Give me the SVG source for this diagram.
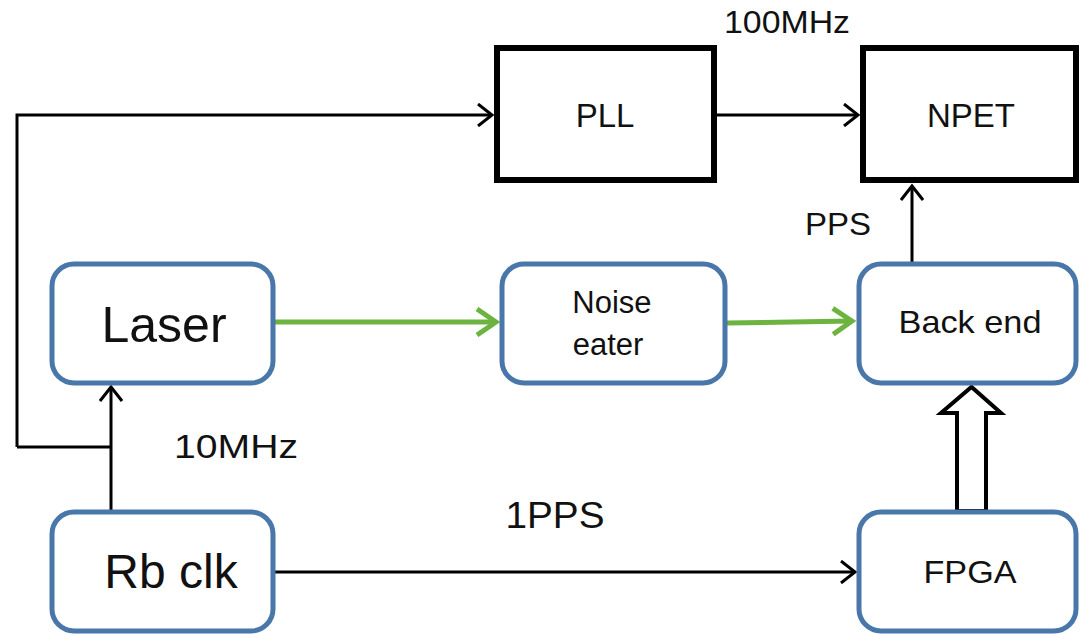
<svg xmlns="http://www.w3.org/2000/svg" width="1080" height="635" viewBox="0 0 1080 635">
  <style>
    .rbox { fill: #ffffff; stroke: #4a77aa; stroke-width: 5; }
    .sbox { fill: #ffffff; stroke: #000000; stroke-width: 6; }
    .lbl { font-family: "Liberation Sans", Arial, sans-serif; fill: #111111; }
    .wire { fill: none; stroke: #000000; stroke-width: 3; }
    .gwire { fill: none; stroke: #6cb33f; stroke-width: 5; }
  </style>
  <defs>
    <marker id="ah" markerUnits="userSpaceOnUse" markerWidth="24" markerHeight="24" viewBox="-20 -12 24 24" refX="0" refY="0" orient="auto">
      <polyline points="-14,-11 0,0 -14,11" fill="none" stroke="#000000" stroke-width="3"/>
    </marker>
    <marker id="gh" markerUnits="userSpaceOnUse" markerWidth="28" markerHeight="30" viewBox="-24 -15 28 30" refX="0" refY="0" orient="auto">
      <polyline points="-19,-13 0,0 -19,13" fill="none" stroke="#6cb33f" stroke-width="5"/>
    </marker>
  </defs>

  <g id="connectors">
    <path class="wire" d="M17,447 V115 H492" marker-end="url(#ah)"/>
    <path class="wire" d="M17,447 H111"/>
    <path class="wire" d="M111,510 V387" marker-end="url(#ah)"/>
    <path class="wire" d="M717,115 H858" marker-end="url(#ah)"/>
    <path class="wire" d="M912,262 V186" marker-end="url(#ah)"/>
    <path class="wire" d="M275,572 H855" marker-end="url(#ah)"/>
    <path class="gwire" d="M275,322 H496" marker-end="url(#gh)"/>
    <path class="gwire" d="M727,323 L852,321" marker-end="url(#gh)"/>
    <polygon points="957,511 957,413 941,413 971.5,387 1001,413 986,413 986,511" fill="#ffffff" stroke="#000000" stroke-width="4" stroke-linejoin="miter"/>
  </g>

  <g id="pll">
    <rect class="sbox" x="497" y="48" width="217" height="132"/>
    <text class="lbl" x="605" y="127" font-size="33" text-anchor="middle">PLL</text>
  </g>
  <g id="npet">
    <rect class="sbox" x="863" y="48" width="213" height="132"/>
    <text class="lbl" x="971" y="127" font-size="33" text-anchor="middle">NPET</text>
  </g>
  <g id="laser">
    <rect class="rbox" x="52" y="264" width="221" height="119" rx="22" ry="22"/>
    <text class="lbl" x="164" y="342" font-size="50" text-anchor="middle">Laser</text>
  </g>
  <g id="rbclk">
    <rect class="rbox" x="52" y="512" width="221" height="119" rx="22" ry="22"/>
    <text class="lbl" x="171" y="588" font-size="48" text-anchor="middle">Rb clk</text>
  </g>
  <g id="noise-eater">
    <rect class="rbox" x="502" y="264" width="223" height="119" rx="22" ry="22"/>
    <text class="lbl" x="612" y="313" font-size="31" text-anchor="middle">Noise</text>
    <text class="lbl" x="608" y="355" font-size="31" text-anchor="middle">eater</text>
  </g>
  <g id="back-end">
    <rect class="rbox" x="859" y="264" width="217" height="119" rx="22" ry="22"/>
    <text class="lbl" x="970" y="333" font-size="32" text-anchor="middle" textLength="143" lengthAdjust="spacingAndGlyphs">Back end</text>
  </g>
  <g id="fpga">
    <rect class="rbox" x="859" y="512" width="217" height="119" rx="22" ry="22"/>
    <text class="lbl" x="970" y="583" font-size="32" text-anchor="middle" textLength="93" lengthAdjust="spacingAndGlyphs">FPGA</text>
  </g>

  <g id="labels">
    <text class="lbl" x="787" y="33" font-size="31" text-anchor="middle" textLength="126" lengthAdjust="spacingAndGlyphs">100MHz</text>
    <text class="lbl" x="838" y="235" font-size="31" text-anchor="middle" textLength="66" lengthAdjust="spacingAndGlyphs">PPS</text>
    <text class="lbl" x="236" y="458" font-size="34" text-anchor="middle" textLength="124" lengthAdjust="spacingAndGlyphs">10MHz</text>
    <text class="lbl" x="555" y="528" font-size="37" text-anchor="middle" textLength="99" lengthAdjust="spacingAndGlyphs">1PPS</text>
  </g>
</svg>
